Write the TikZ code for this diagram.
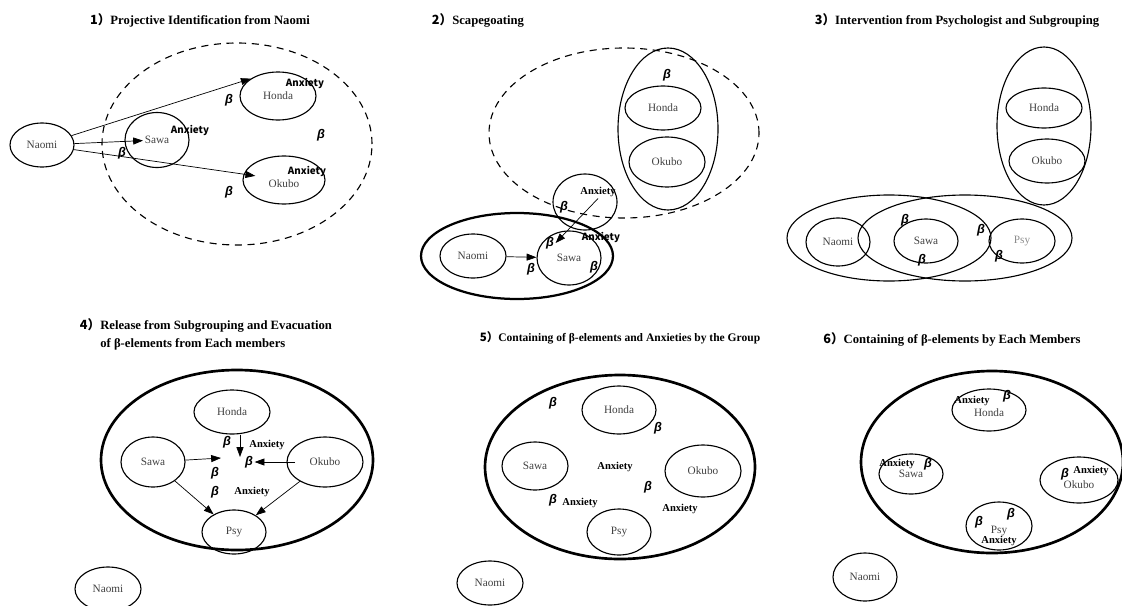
\documentclass[tikz,border=0pt]{standalone}
\usepackage{fontspec}
\setmainfont{Liberation Serif}
\newfontfamily\cjk{Noto Sans CJK SC}
\newfontfamily\grk{Liberation Sans}
\usetikzlibrary{shapes.geometric,arrows.meta}
\newcommand\pxu{0.025cm}
\newcommand\namefont{\fontsize{8}{9}\selectfont}
\newcommand\anxfont{\fontsize{7.5}{8}\selectfont\bfseries}
\newcommand\anxcjk{\fontsize{7}{8}\selectfont\cjk\bfseries}
\newcommand\betfont{\fontsize{9}{10}\selectfont\grk\bfseries\itshape}
\newcommand\ttlfont{\fontsize{9}{12.8}\selectfont\bfseries}
\newcommand\stepno[1]{{\cjk\bfseries #1）}}
\begin{document}
\begin{tikzpicture}[x=\pxu,y=-\pxu,
    ew/.style={minimum width=#1*\pxu},
    eh/.style={minimum height=#1*\pxu}]
  \tikzstyle{pers}=[ellipse,draw,line width=0.8pt,inner sep=0pt,font=\namefont,text=black!75]
  \tikzstyle{grp}=[ellipse,draw,line width=0.8pt,inner sep=0pt]
  \tikzstyle{thickgrp}=[ellipse,draw,line width=1.9pt,inner sep=0pt]
  \tikzstyle{dashgrp}=[ellipse,draw,line width=0.8pt,inner sep=0pt,dash pattern=on 5pt off 4pt]
  \tikzstyle{anx}=[font=\anxfont,inner sep=1pt]
  \tikzstyle{anxc}=[font=\anxcjk,inner sep=1pt]
  \tikzstyle{bet}=[font=\betfont,inner sep=1pt]
  \tikzstyle{ttl}=[font=\ttlfont]
  \tikzstyle{arr}=[-{Triangle[length=7pt,width=5pt]},line width=0.5pt]
  \useasboundingbox (0,0) rectangle (1122,605);

  % 1) projective identification
  \node (T1) at (200,20) [ttl] {\stepno{1}Projective Identification from Naomi};
  \node (G1) at (237,144) [dashgrp,ew=270,eh=202] {};
  \node (N1) at (42,145)  [pers,ew=64,eh=44] {Naomi};
  \node (S1) at (157,140) [pers,ew=64,eh=55] {Sawa};
  \node (H1) at (278,96)  [pers,ew=76,eh=48] {Honda};
  \node (O1) at (284,180) [pers,ew=82,eh=48,text height=11pt] {Okubo};
  \node (a11) at (305,83)  [anxc] {Anxiety};
  \node (a12) at (190,130) [anxc] {Anxiety};
  \node (a13) at (307,171) [anxc] {Anxiety};
  \node (b11) at (229,100) [bet] {β};
  \node (b12) at (122,153) [bet] {β};
  \node (b13) at (321,135) [bet] {β};
  \node (b14) at (229,192) [bet] {β};
  \draw[arr] (N1) -- (H1.north west);
  \draw[arr,shorten >=14*\pxu] (N1) -- (S1.center);
  \draw[arr,shorten >=29*\pxu] (N1) -- (O1.center);

  % 2) scapegoating
  \node (T2) at (478,20) [ttl] {\stepno{2}Scapegoating};
  \node (G2) at (624,133) [dashgrp,ew=270,eh=170] {};
  \node (K2) at (668,129) [grp,ew=100,eh=162] {};
  \node (H2) at (663,108) [pers,ew=76,eh=44] {Honda};
  \node (O2) at (667,162) [pers,ew=76,eh=50] {Okubo};
  \node (b21) at (667,75) [bet] {β};
  \node (X2) at (585,202) [grp,ew=64,eh=56] {};
  \node (a21) at (598,192) [anx] {Anxiety};
  \node (b22) at (564,207) [bet] {β};
  \node (M2) at (517,256) [thickgrp,line width=1.6pt,ew=192,eh=86] {};
  \node (N2) at (473,256) [pers,ew=66,eh=44] {Naomi};
  \node (S2) at (569,258) [pers,ew=64,eh=54] {Sawa};
  \node (a22) at (601,237) [anxc] {Anxiety};
  \node (b23) at (550,243) [bet] {β};
  \node (b24) at (531,269) [bet] {β};
  \node (b25) at (594,267) [bet] {β};
  \draw[arr] (N2) -- (S2);
  \draw[arr] (a21.south) -- (b23.east);

  % 3) intervention and subgrouping
  \node (T3) at (957,20) [ttl] {\stepno{3}Intervention from Psychologist and Subgrouping};
  \node (K3) at (1044,126) [grp,ew=94,eh=158] {};
  \node (H3) at (1044,108) [pers,ew=76,eh=40] {Honda};
  \node (O3) at (1047,161) [pers,ew=76,eh=44] {Okubo};
  \node (L3) at (889,238) [grp,ew=204,eh=86] {};
  \node (R3) at (965,238) [grp,ew=214,eh=86] {};
  \node (N3) at (838,242) [pers,ew=64,eh=48] {Naomi};
  \node (S3) at (926,241) [pers,ew=64,eh=44] {Sawa};
  \node (P3) at (1022,241) [pers,ew=66,eh=44,text=black!45] {Psy};
  \node (b31) at (905,220) [bet] {β};
  \node (b32) at (922,260) [bet] {β};
  \node (b33) at (981,230) [bet] {β};
  \node (b34) at (999,256) [bet] {β};

  % 4) release and evacuation
  \node (T4) at (75,334) [ttl,anchor=west,align=left]
    {\stepno{4}Release from Subgrouping and Evacuation\\
     \hphantom{\stepno{4}}of β-elements from Each members};
  \node (M4) at (237,460) [thickgrp,ew=272,eh=180] {};
  \node (H4) at (232,412) [pers,ew=76,eh=44] {Honda};
  \node (S4) at (153,462) [pers,ew=64,eh=50] {Sawa};
  \node (O4) at (325,462) [pers,ew=76,eh=50] {Okubo};
  \node (P4) at (234,532) [pers,ew=64,eh=44] {Psy};
  \node (N4) at (108,589) [pers,ew=66,eh=44] {Naomi};
  \node (b41) at (227,442) [bet] {β};
  \node (b42) at (249,462) [bet] {β};
  \node (b43) at (215,473) [bet] {β};
  \node (b44) at (215,492) [bet] {β};
  \node (a41) at (267,445) [anx] {Anxiety};
  \node (a42) at (252,492) [anx] {Anxiety};
  \coordinate (hubS) at (221,458);
  \coordinate (hubH) at (240,457);
  \draw[arr] (H4.south -| hubH) -- (hubH);
  \draw[arr] (S4) -- (hubS);
  \draw[arr,shorten <=30*\pxu] (O4.center) -- (b42);
  \draw[arr] (S4) -- (P4);
  \draw[arr] (O4) -- (P4);

  % 5) containing by the group
  \node (T5) at (620,338) [ttl,font=\fontsize{8.2}{10}\selectfont\bfseries]
    {\stepno{5}Containing of β-elements and Anxieties by the Group};
  \node (M5) at (620,467) [thickgrp,ew=270,eh=184] {};
  \node (H5) at (619,410) [pers,ew=74,eh=48] {Honda};
  \node (S5) at (535,466) [pers,ew=66,eh=48] {Sawa};
  \node (O5) at (703,471) [pers,ew=76,eh=52] {Okubo};
  \node (P5) at (619,532) [pers,ew=64,eh=46] {Psy};
  \node (N5) at (490,583) [pers,ew=66,eh=44] {Naomi};
  \node (b51) at (553,403) [bet] {β};
  \node (b52) at (658,428) [bet] {β};
  \node (b53) at (648,487) [bet] {β};
  \node (b54) at (553,500) [bet] {β};
  \node (a51) at (615,467) [anx] {Anxiety};
  \node (a52) at (580,503) [anx] {Anxiety};
  \node (a53) at (680,509) [anx] {Anxiety};

  % 6) containing by each member
  \node (T6) at (952,339) [ttl] {\stepno{6}Containing of β-elements by Each Members};
  \node (M6) at (992,462) [thickgrp,ew=262,eh=182] {};
  \node (H6) at (989,410) [pers,ew=74,eh=42,text height=9.7pt] {Honda};
  \node (S6) at (911,474) [pers,ew=64,eh=40] {Sawa};
  \node (O6) at (1079,480) [pers,ew=78,eh=46,text height=12.5pt] {Okubo};
  \node (P6) at (999,526) [pers,ew=66,eh=48,text height=12.5pt] {Psy};
  \node (N6) at (865,577) [pers,ew=64,eh=48] {Naomi};
  \node (a61) at (972,401) [anx] {Anxiety};
  \node (b61) at (1007,396) [bet] {β};
  \node (a62) at (897,464) [anx] {Anxiety};
  \node (b62) at (928,464) [bet] {β};
  \node (b63) at (1065,474) [bet] {β};
  \node (a63) at (1091,471) [anx] {Anxiety};
  \node (b64) at (979,522) [bet] {β};
  \node (b65) at (1011,514) [bet] {β};
  \node (a64) at (999,541) [anx] {Anxiety};
\end{tikzpicture}
\end{document}
